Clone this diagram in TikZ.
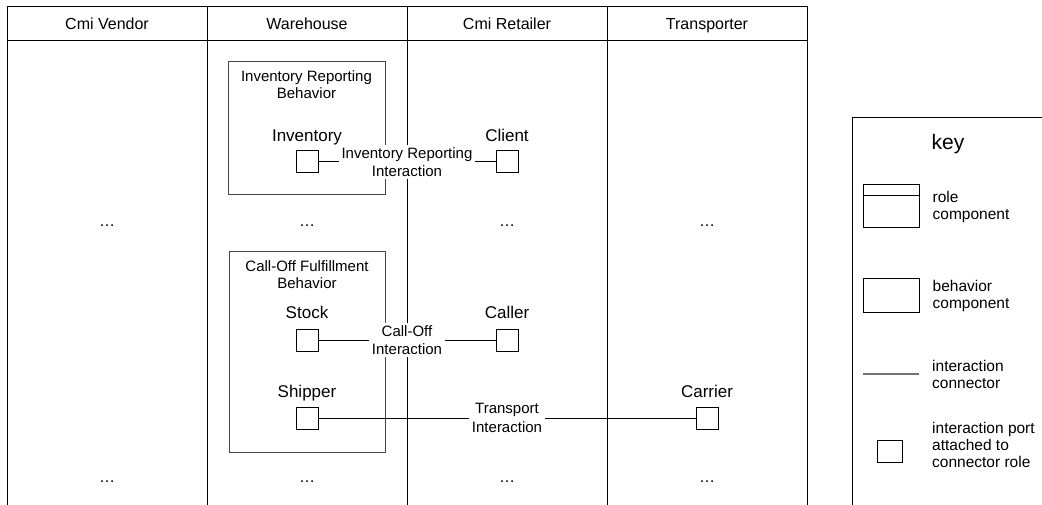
\documentclass[tikz,border=0pt]{standalone}
\usepackage{fontspec}
\setmainfont{Liberation Sans}
\usetikzlibrary{positioning}
\definecolor{laneBlack}{RGB}{0,0,0}
\definecolor{boxGray}{RGB}{70,70,70}
\definecolor{keyGray}{RGB}{115,115,115}
\tikzset{
    laneline/.style={draw=laneBlack, line width=1pt},
    lanehead/.style={
        anchor=base,
        inner sep=0pt,
        font=\fontsize{16}{19}\selectfont
    },
    lanedots/.style={
        anchor=base,
        inner sep=0pt,
        font=\fontsize{16}{19}\selectfont
    },
    behaviorbox/.style={
        rectangle,
        draw=boxGray,
        line width=1pt,
        inner sep=0pt
    },
    behaviortitle/.style={
        align=center,
        inner sep=0pt,
        font=\fontsize{15}{17}\selectfont
    },
    portbox/.style={
        rectangle,
        draw=laneBlack,
        line width=1pt,
        fill=white,
        minimum width=22pt,
        minimum height=22pt,
        inner sep=0pt
    },
    portlabel/.style={
        inner sep=0pt,
        text depth=0pt,
        font=\fontsize{17}{20}\selectfont
    },
    connline/.style={draw=laneBlack, line width=1pt},
    connlabel/.style={
        fill=white,
        align=center,
        inner sep=2.5pt,
        font=\fontsize{15}{18.5}\selectfont
    },
    keyframe/.style={draw=laneBlack, line width=1pt},
    keytitle/.style={anchor=base, inner sep=0pt, font=\fontsize{21}{24}\selectfont},
    keyicon/.style={rectangle, draw=laneBlack, line width=1pt, inner sep=0pt},
    keyline/.style={draw=keyGray, line width=1.5pt},
    keytext/.style={
        anchor=west,
        align=left,
        inner sep=0pt,
        font=\fontsize{15.5}{17}\selectfont
    }
}
\begin{document}
\begin{tikzpicture}[x=1pt, y=-1pt]
    \useasboundingbox (0,0) rectangle (1042,505);

    % swimlanes
    \draw[laneline] (7,505) -- (7,7) -- (807,7) -- (807,505);
    \draw[laneline] (7,41) -- (807,41);
    \draw[laneline] (207,7) -- (207,505);
    \draw[laneline] (407,7) -- (407,505);
    \draw[laneline] (607,7) -- (607,505);

    \node[lanehead] (vendor) at (107,30) {Cmi Vendor};
    \node[lanehead] (warehouse) at (307,30) {Warehouse};
    \node[lanehead] (retailer) at (507,30) {Cmi Retailer};
    \node[lanehead] (transporter) at (707,30) {Transporter};

    \node[lanedots] (vendordots) at (107,227) {\dots};
    \node[lanedots] (warehousedots) at (307,227) {\dots};
    \node[lanedots] (retailerdots) at (507,227) {\dots};
    \node[lanedots] (transporterdots) at (707,227) {\dots};
    \node[lanedots] (vendorend) at (107,482) {\dots};
    \node[lanedots] (warehouseend) at (307,482) {\dots};
    \node[lanedots] (retailerend) at (507,482) {\dots};
    \node[lanedots] (transporterend) at (707,482) {\dots};

    % behaviors
    \node[behaviorbox, minimum width=157pt, minimum height=133pt] (reporting) at (306.5,128.5) {};
    \node[behaviortitle, below=9pt of reporting.north] (reportingtitle) {Inventory Reporting\\Behavior};
    \node[behaviorbox, minimum width=156pt, minimum height=200pt] (fulfillment) at (307,352) {};
    \node[behaviortitle, below=8.5pt of fulfillment.north] (fulfillmenttitle) {Call-Off Fulfillment\\Behavior};

    % ports
    \node[portbox] (inventory) at (307,162) {};
    \node[portlabel, above=9pt of inventory] (inventorylabel) {Inventory};
    \node[portbox] (client) at (507,162) {};
    \node[portlabel, above=9pt of client] (clientlabel) {Client};
    \node[portbox] (stock) at (307,340) {};
    \node[portlabel, above=9.5pt of stock] (stocklabel) {Stock};
    \node[portbox] (caller) at (507,340) {};
    \node[portlabel, above=9.5pt of caller] (callerlabel) {Caller};
    \node[portbox] (shipper) at (307,418) {};
    \node[portlabel, above=9pt of shipper] (shipperlabel) {Shipper};
    \node[portbox] (carrier) at (707,418) {};
    \node[portlabel, above=9pt of carrier] (carrierlabel) {Carrier};

    % interactions
    \draw[connline] (inventory) -- (client) node[connlabel, midway] (reportinglink) {Inventory Reporting\\Interaction};
    \draw[connline] (stock) -- (caller) node[connlabel, midway] (callofflink) {Call-Off\\Interaction};
    \draw[connline] (shipper) -- (carrier) node[connlabel, midway] (transportlink) {Transport\\Interaction};

    % key
    \draw[keyframe] (1042,118) -- (852,118) -- (852,505);
    \node[keytitle] (keyhead) at (948,150) {key};

    \node[keyicon, minimum width=56pt, minimum height=43pt] (keyrole) at (891,206.5) {};
    \draw[keyframe] ([yshift=-11pt]keyrole.north west) -- ([yshift=-11pt]keyrole.north east);
    \node[keytext, right=13pt of keyrole] (keyroletext) {role\\component};

    \node[keyicon, minimum width=56pt, minimum height=33pt] (keybehavior) at (891,295.5) {};
    \node[keytext, right=13pt of keybehavior] (keybehaviortext) {behavior\\component};

    \coordinate (keylinestart) at (863,374);
    \coordinate (keylineend) at (919,374);
    \draw[keyline] (keylinestart) -- (keylineend);
    \node[keytext] (keylinetext) at (932,374) {interaction\\connector};

    \node[keyicon, minimum width=25pt, minimum height=22pt] (keyport) at (889.5,451) {};
    \node[keytext] (keyporttext) at (932,445) {interaction port\\attached to\\connector role};
\end{tikzpicture}
\end{document}
